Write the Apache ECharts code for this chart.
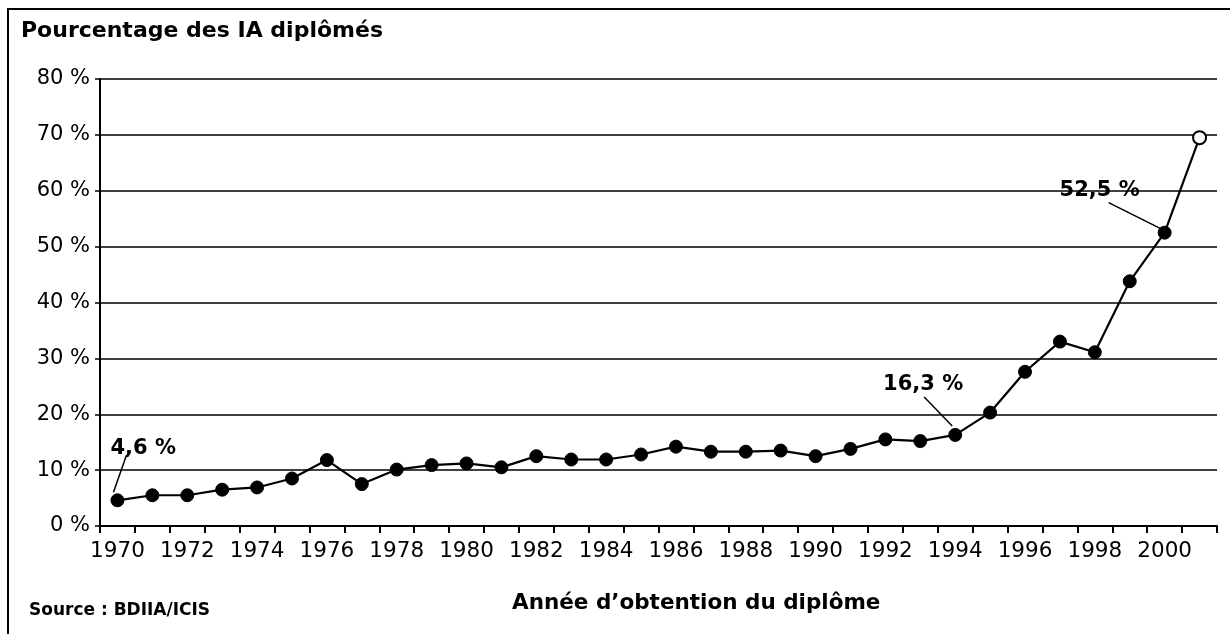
<!DOCTYPE html>
<html>
<head>
<meta charset="utf-8">
<script src="https://cdn.jsdelivr.net/npm/echarts@6/dist/echarts.min.js"></script>
<style>
  html, body { margin: 0; padding: 0; background: #fff; }
  #chart { width: 1230px; height: 634px; }
</style>
</head>
<body>
<div id="chart"></div>
<script>
const years = [];
for (let y = 1970; y <= 2001; y++) years.push(String(y));
// share of graduates (last point drawn hollow)
const pct = [4.6, 5.5, 5.5, 6.5, 6.9, 8.5, 11.8, 7.5, 10.1, 10.9,
  11.2, 10.5, 12.5, 11.9, 11.9, 12.8, 14.2, 13.3, 13.3, 13.5,
  12.5, 13.8, 15.5, 15.2, 16.3, 20.3, 27.6, 33.0, 31.1, 43.8,
  52.5, 69.5];
const callouts = [
  {year: '1970', text: '4,6 %'},
  {year: '1994', text: '16,3 %'},
  {year: '2000', text: '52,5 %'}
];
// text / leader-line offsets from the marked point, in px
const calloutOffsets = {
  '1970': {tx: -7, ty: -52, align: 'left', line: [-4, -8, 9, -45]},
  '1994': {tx: -32, ty: -50, align: 'center', line: [-3, -9, -31, -38]},
  '2000': {tx: -65, ty: -42, align: 'center', line: [-4, -4, -56, -30]}
};

const font = 'DejaVu Sans';
const chart = echarts.init(document.getElementById('chart'));

const option = {
  animation: false,
  backgroundColor: '#fff',
  title: [
    {
      text: 'Pourcentage des IA diplômés',
      left: 21, top: 20, padding: 0,
      textStyle: {fontFamily: font, fontSize: 22, fontWeight: 'bold', color: '#000'}
    },
    {
      text: 'Source : BDIIA/ICIS',
      left: 29, top: 602, padding: 0,
      textStyle: {fontFamily: font, fontSize: 17, fontWeight: 'bold', color: '#000'}
    },
    {
      text: 'Année d’obtention du diplôme',
      left: 512, top: 592, padding: 0,
      textStyle: {fontFamily: font, fontSize: 21.5, fontWeight: 'bold', color: '#000'}
    }
  ],
  grid: {left: 100, right: 13, top: 79, bottom: 108, containLabel: false},
  xAxis: {
    type: 'category',
    data: years,
    boundaryGap: true,
    axisLine: {lineStyle: {color: '#000', width: 2}},
    axisTick: {show: true, interval: 0, length: 7, lineStyle: {color: '#000', width: 2}},
    axisLabel: {interval: 1, margin: 14, color: '#000', fontFamily: font, fontSize: 21.5},
    splitLine: {show: false}
  },
  yAxis: {
    type: 'value',
    min: 0, max: 80, interval: 10,
    axisLine: {show: true, lineStyle: {color: '#000', width: 2}},
    axisTick: {show: true, length: 5, lineStyle: {color: '#000', width: 1.5}},
    axisLabel: {formatter: '{value} %', margin: 10, color: '#000', fontFamily: font, fontSize: 21},
    splitLine: {show: true, lineStyle: {color: '#000', width: 1.5}}
  },
  series: [{
    type: 'line',
    data: pct.map((v, i) => i === pct.length - 1
      ? {value: v, itemStyle: {color: '#fff', borderColor: '#000', borderWidth: 2}}
      : v),
    symbol: 'circle',
    symbolSize: 13,
    lineStyle: {color: '#000', width: 2.2},
    itemStyle: {color: '#000', borderColor: '#000', borderWidth: 1}
  }]
};
chart.setOption(option);

// callouts positioned from the data through the chart's scales
const graphic = [{
  type: 'rect',
  shape: {x: 8, y: 9, width: 1260, height: 660},
  style: {fill: 'none', stroke: '#000', lineWidth: 2},
  silent: true
}];
callouts.forEach((c) => {
  const i = years.indexOf(c.year);
  const p = chart.convertToPixel({seriesIndex: 0}, [i, pct[i]]);
  const o = calloutOffsets[c.year];
  graphic.push({
    type: 'line',
    shape: {x1: p[0] + o.line[0], y1: p[1] + o.line[1], x2: p[0] + o.line[2], y2: p[1] + o.line[3]},
    style: {stroke: '#000', lineWidth: 1.5},
    silent: true
  });
  graphic.push({
    type: 'text',
    x: p[0] + o.tx, y: p[1] + o.ty,
    style: {
      text: c.text, fill: '#000', font: 'bold 21px "DejaVu Sans"',
      align: o.align, verticalAlign: 'middle'
    },
    silent: true
  });
});
chart.setOption({graphic: graphic});
</script>
</body>
</html>
